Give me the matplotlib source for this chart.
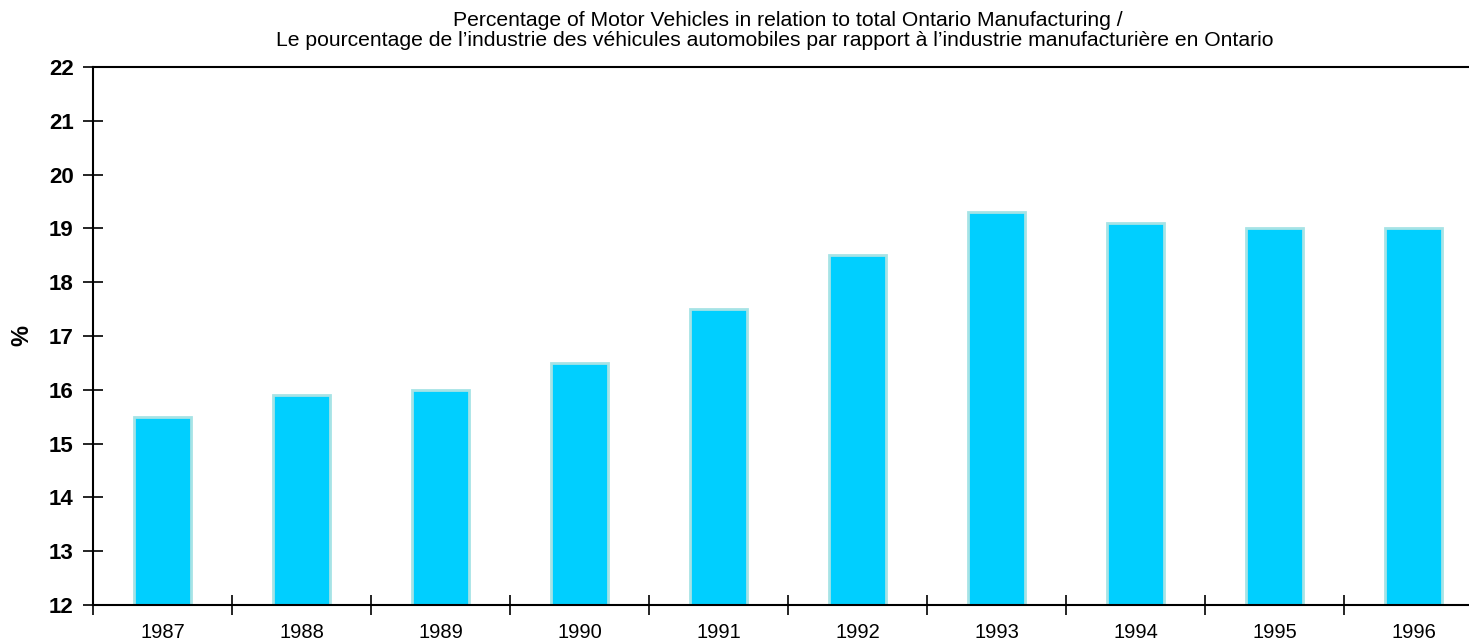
import matplotlib
matplotlib.use("Agg")
import matplotlib.pyplot as plt

years = ["1987", "1988", "1989", "1990", "1991", "1992", "1993", "1994", "1995", "1996"]
values = [15.5, 15.9, 16.0, 16.5, 17.5, 18.5, 19.3, 19.1, 19.0, 19.0]
yticks = [12, 13, 14, 15, 16, 17, 18, 19, 20, 21, 22]

plt.rcParams['font.family'] = ['Liberation Sans', 'DejaVu Sans']

W, H = 1469, 641
fig = plt.figure(figsize=(W / 100, H / 100), dpi=100)
left, right, top, bottom = 93, 1483, 67, 605
ax = fig.add_axes([left / W, 1 - bottom / H, (right - left) / W, (bottom - top) / H])

x = list(range(len(years)))
ax.bar(x, values, width=0.41, bottom=0, color="#00CFFF", edgecolor="#A6E3E6", linewidth=2, zorder=2)
ax.set_xlim(-0.5, len(years) - 0.5)
ax.set_ylim(12, 22)

ax.set_yticks(yticks)
ax.set_yticklabels([str(t) for t in yticks], fontsize=16, fontweight="bold")
ax.set_xticks(x)
ax.set_xticklabels(years, fontsize=14.5)
ax.set_xticks([i - 0.5 for i in range(len(years) + 1)], minor=True)
ax.tick_params(axis="x", which="major", length=0, pad=13)
ax.tick_params(axis="x", which="minor", length=14, width=1.2, direction="inout")
ax.tick_params(axis="y", which="major", length=14, width=1.2, direction="inout", pad=7)

for s in ["left", "top", "bottom"]:
    ax.spines[s].set_linewidth(1.5)
ax.spines["right"].set_visible(False)

fig.text(22 / W, 1 - 335 / H, "%", rotation=90, ha="center", va="center",
         fontsize=17, fontweight="bold")

fig.text(788 / W, 1 - 20 / H, "Percentage of Motor Vehicles in relation to total Ontario Manufacturing /",
         ha="center", va="center", fontsize=15.2)
fig.text(775 / W, 1 - 41 / H,
         "Le pourcentage de l\u2019industrie des v\u00e9hicules automobiles par rapport \u00e0 l\u2019industrie manufacturi\u00e8re en Ontario",
         ha="center", va="center", fontsize=15.2)

fig.savefig("out.png", dpi=100)
